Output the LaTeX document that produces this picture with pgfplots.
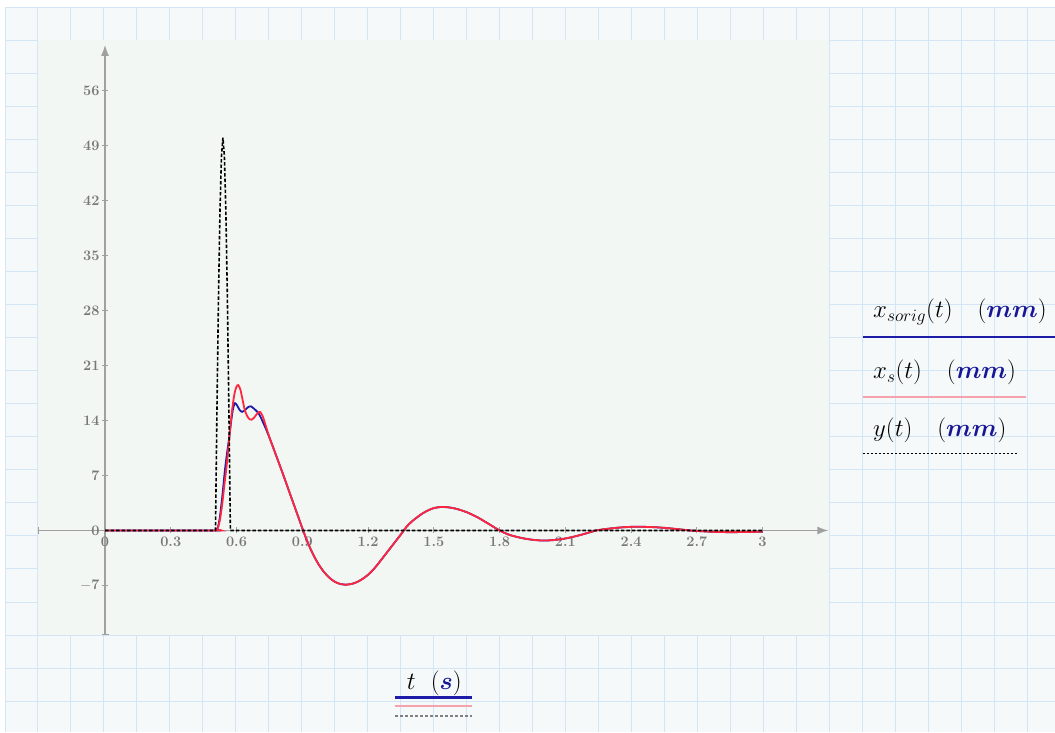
\documentclass[border=0pt]{standalone}
\usepackage{pgfplots}
\pgfplotsset{compat=1.18}
\usepackage{bm}
\usetikzlibrary{arrows.meta}
\definecolor{curveblue}{RGB}{28,28,168}
\definecolor{curvered}{RGB}{255,38,62}
\definecolor{pinkline}{RGB}{245,162,172}
\definecolor{gridblue}{RGB}{212,229,245}
\definecolor{paper}{RGB}{246,249,249}
\definecolor{plotbg}{RGB}{243,247,244}
\definecolor{axisgray}{RGB}{160,160,160}
\definecolor{ticktext}{RGB}{120,120,120}
\definecolor{unitblue}{RGB}{22,22,150}

\pgfplotstableread{
t x
0 0
0.5 0
0.509 0.05
0.515 0.4
0.524 1.7
0.535 4.3
0.547 7.65
0.557 9.9
0.567 11.9
0.577 14.2
0.585 15.6
0.593 16.2
0.603 15.9
0.614 15.35
0.626 15.1
0.64 15.35
0.655 15.75
0.666 15.8
0.68 15.5
0.695 15.1
0.707 14.6
0.73 13.2
0.752 11.7
0.78 9.6
0.813 7.1
0.85 4.2
0.875 2.26
0.904 0
0.925 -1.53
0.95 -3.07
0.975 -4.33
1.0 -5.31
1.025 -6.05
1.05 -6.55
1.075 -6.82
1.097 -6.9
1.125 -6.8
1.15 -6.56
1.175 -6.16
1.2 -5.64
1.225 -4.95
1.25 -4.1
1.275 -3.2
1.3 -2.3
1.325 -1.4
1.35 -0.5
1.375 0.45
1.4 1.15
1.425 1.7
1.45 2.2
1.475 2.57
1.5 2.85
1.535 3.0
1.56 2.97
1.6 2.78
1.65 2.33
1.7 1.67
1.75 0.85
1.775 0.42
1.8 0
1.825 -0.33
1.85 -0.6
1.9 -0.95
1.95 -1.18
2.0 -1.28
2.05 -1.21
2.1 -1.02
2.15 -0.71
2.2 -0.33
2.24 0
2.3 0.24
2.35 0.38
2.4 0.465
2.43 0.48
2.5 0.43
2.55 0.34
2.6 0.21
2.67 0
2.72 -0.09
2.77 -0.16
2.82 -0.2
2.86 -0.21
2.9 -0.2
2.95 -0.18
3.0 -0.14
}\xsorig

\pgfplotstableread{
t x
0 0
0.5 0
0.509 0.05
0.515 0.3
0.524 1.3
0.535 3.4
0.545 5.9
0.554 8.0
0.565 11.2
0.578 14.9
0.59 17.3
0.6 18.3
0.608 18.5
0.618 17.9
0.628 16.6
0.638 15.3
0.65 14.5
0.66 14.15
0.669 14.1
0.68 14.35
0.695 14.9
0.707 15.1
0.72 14.5
0.737 13.0
0.752 11.7
0.78 9.6
0.813 7.1
0.85 4.2
0.875 2.26
0.904 0
0.925 -1.53
0.95 -3.07
0.975 -4.33
1.0 -5.31
1.025 -6.05
1.05 -6.55
1.075 -6.82
1.097 -6.9
1.125 -6.8
1.15 -6.56
1.175 -6.16
1.2 -5.64
1.225 -4.95
1.25 -4.1
1.275 -3.2
1.3 -2.3
1.325 -1.4
1.35 -0.5
1.375 0.45
1.4 1.15
1.425 1.7
1.45 2.2
1.475 2.57
1.5 2.85
1.535 3.0
1.56 2.97
1.6 2.78
1.65 2.33
1.7 1.67
1.75 0.85
1.775 0.42
1.8 0
1.825 -0.33
1.85 -0.6
1.9 -0.95
1.95 -1.18
2.0 -1.28
2.05 -1.21
2.1 -1.02
2.15 -0.71
2.2 -0.33
2.24 0
2.3 0.24
2.35 0.38
2.4 0.465
2.43 0.48
2.5 0.43
2.55 0.34
2.6 0.21
2.67 0
2.72 -0.09
2.77 -0.16
2.82 -0.2
2.86 -0.21
2.9 -0.2
2.95 -0.18
3.0 -0.14
}\xs

\pgfplotstableread{
t y
0 0
0.504 0
0.5108 15.45
0.5176 29.39
0.5244 40.45
0.5312 47.55
0.538 50
0.5448 47.55
0.5516 40.45
0.5584 29.39
0.5652 15.45
0.572 0
3.0 0
}\yroad

\begin{document}
\begin{tikzpicture}
\path[use as bounding box] (0,0) rectangle (1055pt,732pt);
\fill[white] (0,0) rectangle (1055pt,732pt);
\begin{scope}[x=1pt,y=-1pt,shift={(0pt,732pt)}]
  \fill[paper] (5,7.3) rectangle (1055,732);
  \foreach \k in {0,...,31} {\draw[gridblue, line width=1pt] ({5+32.97*\k},7.3) -- ({5+32.97*\k},732);}
  \foreach \k in {0,...,21} {\draw[gridblue, line width=1pt] (5,{7.3+33.04*\k}) -- (1055,{7.3+33.04*\k});}
  \fill[plotbg] (37.97,40.34) rectangle (829.25,635.06);
\end{scope}

\begin{axis}[
  at={(38pt,97pt)}, anchor=south west,
  scale only axis, width=790.3pt, height=590.1pt,
  xmin=-0.3057, xmax=3.3, ymin=-13.3, ymax=61.8,
  axis lines=middle,
  axis line style={draw=axisgray, line width=1.3pt},
  every inner x axis line/.append style={arrows={Bar[width=7pt]-Latex[length=11pt,width=8pt]}},
  every inner y axis line/.append style={arrows={Bar[width=7pt]-Latex[length=11pt,width=8pt]}},
  xtick={0,0.3,0.6,0.9,1.2,1.5,1.8,2.1,2.4,2.7,3},
  xticklabels={0,0.3,0.6,0.9,1.2,1.5,1.8,2.1,2.4,2.7,3},
  ytick={-7,0,7,14,21,28,35,42,49,56},
  yticklabels={$-$7,0,7,14,21,28,35,42,49,56},
  hide obscured x ticks=false, hide obscured y ticks=false,
  tick style={draw=axisgray, line width=0.9pt},
  major tick length=6pt, tick align=center,
  tick label style={font=\bfseries\fontsize{14.5}{16}\selectfont, text=ticktext},
  xticklabel style={yshift=0pt},
  yticklabel style={xshift=1pt},
  clip=false,
]
\addplot[curveblue, line width=1.8pt, smooth] table[x=t,y=x] {\xsorig};
\addplot[curvered, line width=1.8pt, smooth] table[x=t,y=x] {\xs};
\addplot[black, line width=1.6pt, dash pattern=on 3.5pt off 2pt] table[x=t,y=y] {\yroad};
\end{axis}

\begin{scope}[x=1pt,y=-1pt,shift={(0pt,732pt)}]
  \node[anchor=base west, inner sep=0pt] at (873,318) {\fontsize{25}{30}\selectfont $x_{sorig}(t)\quad(\textcolor{unitblue}{\bm{mm}})$};
  \node[anchor=base west, inner sep=0pt] at (873,379) {\fontsize{25}{30}\selectfont $x_{s}(t)\quad(\textcolor{unitblue}{\bm{mm}})$};
  \node[anchor=base west, inner sep=0pt] at (873,436) {\fontsize{25}{30}\selectfont $y(t)\quad(\textcolor{unitblue}{\bm{mm}})$};
  \draw[curveblue, line width=2pt] (862.7,336.7) -- (1055,336.7);
  \draw[pinkline, line width=2pt] (862.7,396.7) -- (1026,396.7);
  \draw[black, line width=1.5pt, dash pattern=on 2.5pt off 1.5pt] (862.7,453.3) -- (1018,453.3);
  \node[anchor=base west, inner sep=0pt] at (406.7,689) {\fontsize{25}{30}\selectfont $t\ \ (\textcolor{unitblue}{\bm{s}})$};
  \draw[curveblue, line width=2.5pt] (395,697.3) -- (472.3,697.3);
  \draw[pinkline, line width=2.5pt] (395,706) -- (472.3,706);
  \draw[gray, line width=1.5pt, dash pattern=on 3pt off 2pt] (395,716) -- (472.3,716);
\end{scope}
\end{tikzpicture}
\end{document}
